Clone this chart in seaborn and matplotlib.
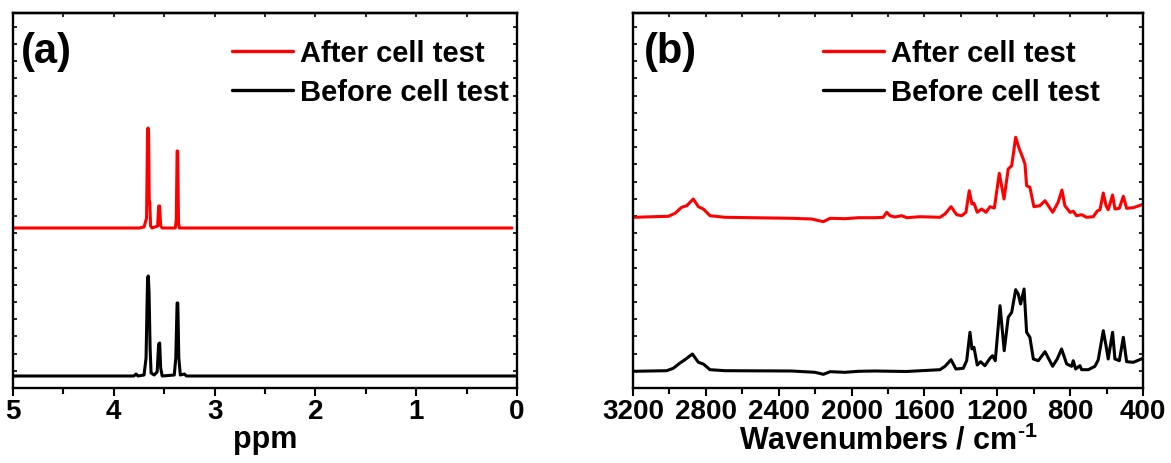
import matplotlib
matplotlib.use("Agg")
import matplotlib.pyplot as plt
import pandas as pd
import seaborn as sns
from matplotlib.ticker import MultipleLocator, NullFormatter

# (a) 1H NMR traces, intensity in arbitrary units (offset stacked)
nmr_ppm_after = [5.0, 3.75, 3.70, 3.675, 3.665, 3.66, 3.655, 3.648, 3.643, 3.635, 3.62,
                 3.565, 3.555, 3.545, 3.535, 3.52, 3.39, 3.38, 3.372, 3.366, 3.358, 3.35, 0.05]
nmr_int_after = [160, 160, 161, 170, 258, 260, 255, 185, 186, 162, 160,
                 162, 182, 182, 162, 160, 160, 168, 237, 237, 165, 160, 160]

nmr_ppm_before = [5.0, 3.80, 3.78, 3.76, 3.70, 3.68, 3.665, 3.658, 3.65, 3.64, 3.63, 3.60,
                  3.57, 3.555, 3.545, 3.535, 3.52, 3.40, 3.385, 3.372, 3.365, 3.355, 3.34,
                  3.30, 3.28, 0.0]
nmr_int_before = [12, 12, 14, 12, 13, 30, 110, 112, 95, 40, 15, 13,
                  16, 44, 45, 20, 12, 13, 30, 85, 85, 30, 13,
                  14, 12, 12]

# (b) FTIR traces
ir_wn_after = [3200, 3006, 2969, 2933, 2905, 2869, 2841, 2814, 2777, 2695, 2329, 2219, 2155,
               2118, 2036, 1963, 1871, 1826, 1807, 1789, 1762, 1725, 1697, 1624, 1515, 1487,
               1454, 1423, 1396, 1372, 1354, 1339, 1328, 1310, 1286, 1262, 1240, 1216, 1189,
               1163, 1140, 1121, 1099, 1079, 1061, 1048, 1039, 1021, 999, 966, 938, 896, 866,
               845, 829, 801, 783, 765, 737, 710, 673, 651, 636, 618, 603, 591, 567, 554, 530,
               508, 490, 453, 400]
ir_abs_after = [170.7, 171.7, 174.7, 180.7, 182.3, 189, 181.3, 179, 172.3, 170.7, 169.7, 169, 166.3,
                169.7, 169.3, 170.3, 170.3, 170.7, 175.7, 172.3, 171, 172.3, 170.3, 171.3, 170.7, 174,
                181.3, 173.3, 172.3, 175.7, 197.3, 184, 184.7, 175.7, 179, 175.7, 181.3, 180, 214.7,
                189, 219, 222.3, 250.7, 239, 230.7, 224, 202.3, 200.7, 181.3, 182.3, 187.3, 175.7, 185.7,
                198, 182.3, 175.7, 176.7, 172.3, 173.3, 170.7, 171.3, 177, 178.3, 195, 182.3, 178.3, 193,
                179, 179.7, 191.7, 179.7, 180.3, 183.7]

ir_wn_before = [3200, 3015, 2979, 2942, 2915, 2874, 2841, 2814, 2777, 2695, 2329, 2201, 2155,
                2118, 2036, 1963, 1871, 1700, 1515, 1487, 1454, 1427, 1387, 1368, 1350, 1339,
                1328, 1310, 1292, 1268, 1240, 1226, 1211, 1185, 1162, 1140, 1121, 1099, 1085,
                1072, 1053, 1039, 1021, 1002, 975, 938, 896, 871, 847, 819, 792, 783, 770, 746,
                737, 700, 664, 646, 618, 603, 591, 567, 554, 530, 508, 490, 453, 400]
ir_abs_before = [16.7, 17.3, 19.7, 25, 28.3, 34, 25.7, 24, 18.3, 17.3, 17, 15.7, 13.7,
                 16.3, 15.7, 16.7, 17, 16.5, 18.3, 21.7, 28.3, 19, 19.7, 27.3, 55.7, 39,
                 40.7, 23, 26.3, 22.3, 29.7, 32.3, 27.3, 82.3, 37.3, 70.7, 75.7, 98.3, 94,
                 84, 99, 55.7, 50.7, 29, 27.3, 36.3, 21.7, 29, 39, 24, 21.7, 27.3, 19, 22.3,
                 18.3, 18.3, 21.7, 28, 57.3, 42.3, 29, 55.7, 29, 27.3, 50.7, 26.3, 25.7, 29.7]

labels = ["After cell test", "Before cell test"]
colors = ["#ff0000", "#000000"]

sns.set_style("ticks")
plt.rcParams["font.family"] = ["Liberation Sans", "DejaVu Sans"]
plt.rcParams["font.weight"] = "bold"
plt.rcParams["axes.labelweight"] = "bold"
plt.rcParams["mathtext.fontset"] = "custom"
plt.rcParams["mathtext.rm"] = "Liberation Sans:bold"
plt.rcParams["mathtext.bf"] = "Liberation Sans:bold"
for key in ["text.color", "axes.edgecolor", "axes.labelcolor", "xtick.color", "ytick.color"]:
    plt.rcParams[key] = "black"

fig = plt.figure(figsize=(11.71, 4.64), dpi=100)
ax_a = fig.add_axes([13 / 1171, 75 / 464, 504 / 1171, 375 / 464])
ax_b = fig.add_axes([633 / 1171, 75 / 464, 510 / 1171, 375 / 464])

nmr = [(nmr_ppm_after, nmr_int_after), (nmr_ppm_before, nmr_int_before)]
ir = [(ir_wn_after, ir_abs_after), (ir_wn_before, ir_abs_before)]

for (x, y), lab, c in zip(nmr, labels, colors):
    df = pd.DataFrame({"x": x, "y": y})
    sns.lineplot(data=df, x="x", y="y", ax=ax_a, color=c, lw=2.2, label=lab,
                 sort=False, estimator=None)
for (x, y), lab, c in zip(ir, labels, colors):
    df = pd.DataFrame({"x": x, "y": y})
    sns.lineplot(data=df, x="x", y="y", ax=ax_b, color=c, lw=2.2, label=lab,
                 sort=False, estimator=None)


def style_axes(ax, xlim, major, minor, xlabel, tag, tagx, legx):
    ax.set_xlim(*xlim)
    ax.set_ylim(0, 375)
    ax.xaxis.set_major_locator(MultipleLocator(major))
    ax.xaxis.set_minor_locator(MultipleLocator(minor))
    ax.yaxis.set_major_locator(MultipleLocator(17.2))
    ax.yaxis.set_major_formatter(NullFormatter())
    ax.tick_params(axis="x", which="major", direction="out", length=6, width=1.5,
                   labelsize=20, pad=1, top=False)
    ax.tick_params(axis="x", which="minor", direction="out", length=4, width=1.5, top=False)
    ax.tick_params(axis="y", which="major", direction="in", length=3, width=1.2,
                   left=True, right=True)
    for lab in ax.get_xticklabels():
        lab.set_fontweight("bold")
    for s in ax.spines.values():
        s.set_linewidth(1.7)
        s.set_visible(True)
    # inward ticks along the top edge
    top = ax.secondary_xaxis("top")
    top.xaxis.set_major_locator(MultipleLocator(minor))
    top.xaxis.set_major_formatter(NullFormatter())
    top.tick_params(direction="in", length=3, width=1.2)
    top.spines["top"].set_linewidth(1.7)

    ax.set_xlabel(xlabel, fontsize=22, fontweight="bold", labelpad=0)
    ax.set_ylabel("")
    ax.text(tagx, 0.9, tag, transform=ax.transAxes, fontsize=30, fontweight="bold",
            va="center", ha="left")
    ax.legend(loc="upper left", bbox_to_anchor=(legx, 0.93), frameon=False,
              fontsize=21, handlelength=2.1, handletextpad=0.24, labelspacing=0.38,
              borderpad=0, borderaxespad=0)
    for t in ax.get_legend().get_texts():
        t.set_fontweight("bold")
    for l in ax.get_legend().get_lines():
        l.set_linewidth(2.4)


style_axes(ax_a, (5, 0), 1, 0.5, "ppm", "(a)", 0.016, (232 - 13) / 504)
style_axes(ax_b, (3200, 400), 400, 200, r"Wavenumbers / cm$^{\text{-1}}$", "(b)", 0.021,
           (823 - 633) / 510)

fig.savefig("out.png", dpi=100)
